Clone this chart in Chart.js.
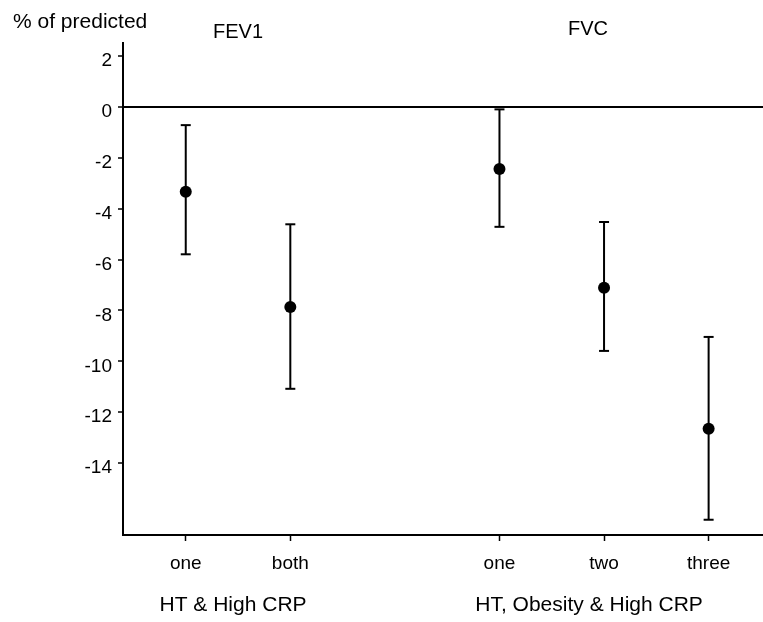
<!DOCTYPE html>
<html><head><meta charset="utf-8">
<script src="https://cdn.jsdelivr.net/npm/chart.js@4/dist/chart.umd.min.js"></script>
<style>html,body{margin:0;padding:0;background:#fff}#wrap{width:763px;height:622px}</style>
</head><body><div id="wrap"><canvas id="c" width="763" height="622"></canvas></div>
<script>
// Categories and positions on the x axis (gap between the two groups)
const categories = ["one", "both", "one", "two", "three"];
const xPositions = [0, 1, 3, 4, 5];
// Mean difference, % of predicted
const means = [-3.33, -7.86, -2.44, -7.11, -12.65];
// 95% CI
const lower = [-5.79, -11.08, -4.71, -9.59, -16.23];
const upper = [-0.71, -4.61, -0.09, -4.52, -9.04];
const yTicks = [2, 0, -2, -4, -6, -8, -10, -12, -14];
const groupTitles = ["FEV1", "FVC"];
const groupLabels = ["HT & High CRP", "HT, Obesity & High CRP"];
const groupMembers = [[0, 1], [2, 3, 4]];
const yAxisTitle = "% of predicted";

const FONT = "'Liberation Sans', Arial, Helvetica, sans-serif";

const meanPts = xPositions.map((x, i) => ({x, y: means[i]}));
const capPts = [];
xPositions.forEach((x, i) => { capPts.push({x, y: lower[i]}); capPts.push({x, y: upper[i]}); });
const barPts = [];
xPositions.forEach((x, i) => { barPts.push({x, y: lower[i]}); barPts.push({x, y: upper[i]}); barPts.push({x, y: null}); });

const textPlugin = {
  id: 'texts',
  afterDraw(chart) {
    const ctx = chart.ctx, xs = chart.scales.x;
    ctx.save();
    ctx.fillStyle = '#000';
    ctx.textBaseline = 'middle';
    ctx.font = '21px ' + FONT;
    ctx.textAlign = 'left';
    ctx.fillText(yAxisTitle, 13, 22);
    ctx.textAlign = 'center';
    const titleY = [32, 29];
    groupMembers.forEach((m, g) => {
      const xs0 = m.map(i => xs.getPixelForValue(xPositions[i]));
      const cx = (Math.min(...xs0) + Math.max(...xs0)) / 2;
      ctx.font = '20px ' + FONT;
      ctx.fillText(groupTitles[g], cx - 16 * g, titleY[g]);
      ctx.font = '21px ' + FONT;
      ctx.fillText(groupLabels[g], cx - 10 * g - 5, 605);
    });
    ctx.restore();
  }
};

new Chart(document.getElementById('c'), {
  type: 'scatter',
  data: {
    datasets: [
      { type: 'line', data: barPts, borderColor: '#000', borderWidth: 2, pointRadius: 0, spanGaps: false, fill: false },
      { data: capPts, pointStyle: 'line', pointRadius: 5, borderColor: '#000', borderWidth: 2, backgroundColor: '#000' },
      { data: meanPts, pointStyle: 'circle', pointRadius: 6, backgroundColor: '#000', borderColor: '#000', borderWidth: 0 }
    ]
  },
  options: {
    responsive: false,
    animation: false,
    events: [],
    layout: { autoPadding: false, padding: { left: 0, top: 43, right: 0, bottom: 0 } },
    plugins: { legend: { display: false }, tooltip: { enabled: false } },
    scales: {
      x: {
        type: 'linear', min: -0.6, max: 5.52,
        afterBuildTicks: s => { s.ticks = xPositions.map(v => ({value: v})); },
        afterFit: s => { s.height = 87; },
        ticks: {
          autoSkip: false, maxRotation: 0, color: '#000', padding: 11,
          font: { family: FONT, size: 19 },
          callback: (v, i) => categories[i]
        },
        grid: { drawOnChartArea: false, drawTicks: true, tickLength: 6, tickColor: '#000', tickWidth: 1.5 },
        border: { color: '#000', width: 2 }
      },
      y: {
        type: 'linear', min: -16.83, max: 2.52,
        afterBuildTicks: s => { s.ticks = yTicks.map(v => ({value: v})); },
        afterFit: s => { s.width = 123; },
        ticks: {
          color: '#000', padding: 6, labelOffset: 5,
          font: { family: FONT, size: 19 },
          callback: v => String(v)
        },
        grid: {
          color: c => (c.tick && c.tick.value === 0) ? '#000' : 'rgba(0,0,0,0)',
          lineWidth: 2, tickColor: '#000', tickLength: 5, tickWidth: 1.5
        },
        border: { color: '#000', width: 2 }
      }
    }
  },
  plugins: [textPlugin]
});
</script></body></html>
